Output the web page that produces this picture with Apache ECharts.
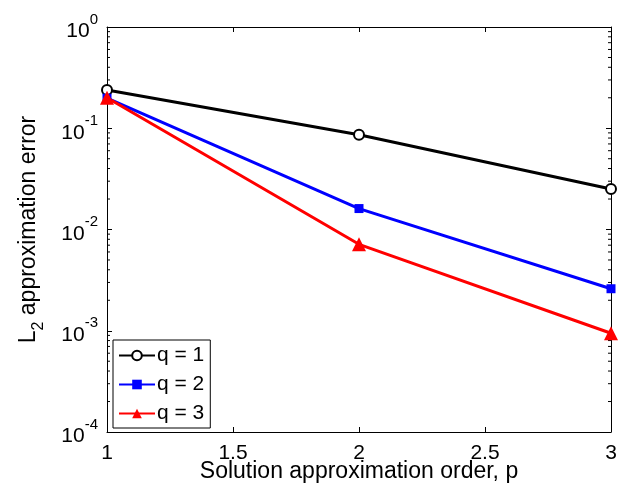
<!DOCTYPE html>
<html><head><meta charset="utf-8">
<script src="https://cdn.jsdelivr.net/npm/echarts@6/dist/echarts.min.js"></script>
<style>html,body{margin:0;padding:0;background:#fff}#c{width:618px;height:488px}</style>
</head><body><div id="c"></div>
<script>
const pValues = [1, 2, 3];
const q1Errors = [0.239, 0.0863, 0.0251];
const q2Errors = [0.198, 0.0161, 0.0026];
const q3Errors = [0.200, 0.00714, 0.000944];
const seriesNames = ['q = 1', 'q = 2', 'q = 3'];
const xTicks = [1, 1.5, 2, 2.5, 3];
const yDecades = [-4, -3, -2, -1, 0];

const FONT = '"Liberation Sans", Arial, Helvetica, sans-serif';
const minorVals = [];
for (let n = -4; n < 0; n++) for (let k = 2; k <= 9; k++) minorVals.push(k * Math.pow(10, n));

const chart = echarts.init(document.getElementById('c'), null, {renderer: 'canvas'});
function pair(a, b) { return a.map((v, i) => [v, b[i]]); }
const yLabelRich = {
  a: {fontSize: 21, fontFamily: FONT, color: '#000', lineHeight: 30, verticalAlign: 'bottom'},
  b: {fontSize: 15, fontFamily: FONT, color: '#000', lineHeight: 15, verticalAlign: 'top'}
};
chart.setOption({
  animation: false,
  backgroundColor: '#fff',
  grid: {left: 107, top: 27, right: 7, bottom: 56, outerBoundsMode: 'none', containLabel: false},
  xAxis: [{
    type: 'value', min: 1, max: 3, interval: 0.5,
    name: 'Solution approximation order, p', nameLocation: 'middle', nameGap: 28, nameMoveOverlap: false,
    nameTextStyle: {fontSize: 23, fontFamily: FONT, color: '#000', verticalAlign: 'top'},
    axisLine: {show: true, lineStyle: {color: '#000', width: 1}},
    axisTick: {show: true, inside: true, length: 5, lineStyle: {color: '#000'}},
    axisLabel: {fontSize: 21, fontFamily: FONT, color: '#000', margin: 11,
      formatter: v => String(v)},
    splitLine: {show: false}
  }, {
    type: 'value', min: 1, max: 3, interval: 0.5, position: 'top',
    axisLine: {show: true, onZero: false, lineStyle: {color: '#000', width: 1}},
    axisTick: {show: true, inside: true, length: 5, lineStyle: {color: '#000'}},
    axisLabel: {show: false}, splitLine: {show: false}
  }],
  yAxis: [{
    type: 'log', logBase: 10, min: 1e-4, max: 1,
    name: '{m|L}{s|2}{m| approximation error}', nameLocation: 'middle', nameGap: 60, nameMoveOverlap: false,
    nameTextStyle: {color: '#000', rich: {
      m: {fontSize: 23, fontFamily: FONT, color: '#000', lineHeight: 30, verticalAlign: 'top'},
      s: {fontSize: 16, fontFamily: FONT, color: '#000', lineHeight: 16, verticalAlign: 'bottom'}
    }},
    axisLine: {show: true, lineStyle: {color: '#000', width: 1}},
    axisTick: {show: true, inside: true, length: 5, lineStyle: {color: '#000'}},
    minorTick: {show: false},
    axisLabel: {margin: 9, rich: yLabelRich,
      formatter: v => '{a|10}{b|' + Math.round(Math.log10(v)) + '}'},
    splitLine: {show: false}
  }, {
    type: 'log', logBase: 10, min: 1e-4, max: 1, position: 'right',
    axisLine: {show: true, onZero: false, lineStyle: {color: '#000', width: 1}},
    axisTick: {show: true, inside: true, length: 5, lineStyle: {color: '#000'}},
    axisLabel: {show: false}, splitLine: {show: false}
  }],
  legend: {
    data: seriesNames,
    orient: 'vertical', left: 113, top: 340,
    itemWidth: 36, itemHeight: 12, itemGap: 8,
    padding: [5, 6, 4, 5],
    borderColor: '#000', borderWidth: 1, backgroundColor: '#fff',
    textStyle: {fontSize: 21, fontFamily: FONT, color: '#000', padding: [0,0,0,-3]}
  },
  series: [{
    name: seriesNames[0], type: 'line', data: pair(pValues, q1Errors),
    symbol: 'emptyCircle', symbolSize: 10,
    lineStyle: {color: '#000', width: 3}, itemStyle: {color: '#000', borderWidth: 2}
  }, {
    name: seriesNames[1], type: 'line', data: pair(pValues, q2Errors),
    symbol: 'rect', symbolSize: 9,
    lineStyle: {color: '#0000ff', width: 3}, itemStyle: {color: '#0000ff'}
  }, {
    name: seriesNames[2], type: 'line', data: pair(pValues, q3Errors),
    symbol: 'triangle', symbolSize: 14,
    lineStyle: {color: '#ff0000', width: 3}, itemStyle: {color: '#ff0000'}
  }, {
    type: 'custom', silent: true, clip: false, z: 1,
    data: minorVals.map(v => [1, v]),
    renderItem: (params, api) => {
      const y = api.value(1);
      const l = api.coord([1, y]);
      const r = api.coord([3, y]);
      return {type: 'group', children: [
        {type: 'line', shape: {x1: l[0], y1: l[1], x2: l[0] + 3, y2: l[1]}, style: {stroke: '#000', lineWidth: 1}},
        {type: 'line', shape: {x1: r[0], y1: r[1], x2: r[0] - 3, y2: r[1]}, style: {stroke: '#000', lineWidth: 1}}
      ]};
    }
  }]
});
</script></body></html>
